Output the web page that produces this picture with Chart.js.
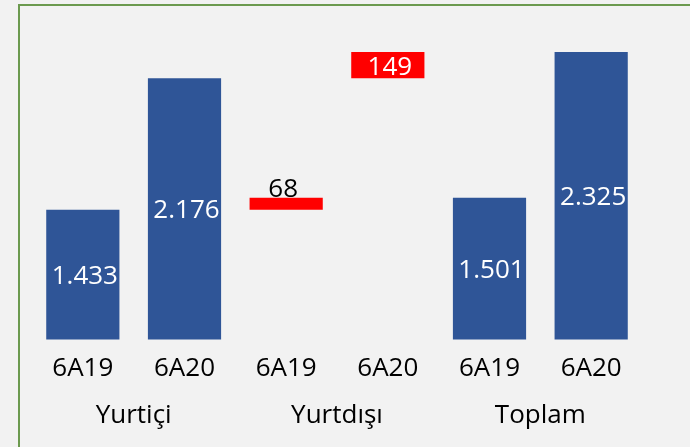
<!DOCTYPE html>
<html lang="tr">
<head>
<meta charset="UTF-8">
<title>Yurtiçi / Yurtdışı / Toplam</title>
<script src="https://cdn.jsdelivr.net/npm/chart.js@4.4.0/dist/chart.umd.min.js"></script>
<style>
    html, body { margin: 0; padding: 0; background: #f2f2f2; overflow: hidden; }
    #frame {
        position: absolute; left: 18px; top: 4px;
        width: 720px; height: 480px;
        border: 2px solid #6c9a4f; box-sizing: border-box;
    }
    #chart { position: absolute; left: 0; top: 0; }
</style>
</head>
<body>
<div id="frame"></div>
<canvas id="chart" width="690" height="447"></canvas>

<script>
    // dönemler ve gruplar
    const periods = ['6A19', '6A20', '6A19', '6A20', '6A19', '6A20'];
    const groups = ['Yurtiçi', 'Yurtdışı', 'Toplam'];

    // değerler
    const yurtici = [1433, 2176];
    const yurtdisi = [68, 149];
    const toplam = [1501, 2325];

    // görünmeyen değer ekseni
    const yMin = 700;
    const yMax = 2500;

    // yurtdışı çubukları yurtiçi değerinin üstünde yüzüyor
    const bars = [
        ...yurtici,
        [yurtici[0], yurtici[0] + yurtdisi[0]],
        [yurtici[1], yurtici[1] + yurtdisi[1]],
        ...toplam
    ];
    const shown = [...yurtici, ...yurtdisi, ...toplam];
    const colors = ['#2f5597', '#2f5597', '#ff0000', '#ff0000', '#2f5597', '#2f5597'];

    const FONT = '"Open Sans", "Noto Sans", sans-serif';

    function fmt(v) {
        return String(v).replace(/\B(?=(\d{3})+(?!\d))/g, '.');
    }

    // çubuk etiketleri
    const valueLabels = {
        id: 'valueLabels',
        afterDatasetsDraw(chart) {
            const ctx = chart.ctx;
            const area = chart.chartArea;
            const meta = chart.getDatasetMeta(0);
            ctx.save();
            ctx.font = '26px ' + FONT;
            ctx.textAlign = 'center';
            meta.data.forEach((bar, i) => {
                const txt = fmt(shown[i]);
                const top = Math.max(Math.min(bar.y, bar.base), area.top);
                const bottom = Math.min(Math.max(bar.y, bar.base), area.bottom);
                if (bottom - top > 20) {
                    ctx.fillStyle = '#ffffff';
                    ctx.textBaseline = 'middle';
                    ctx.fillText(txt, bar.x + 2, (top + bottom) / 2 + 2);
                } else {
                    ctx.fillStyle = '#000000';
                    ctx.textBaseline = 'alphabetic';
                    ctx.fillText(txt, bar.x - 3, top - 1);
                }
            });
            ctx.restore();
        }
    };

    new Chart(document.getElementById('chart'), {
        type: 'bar',
        data: {
            labels: periods,
            datasets: [{
                data: bars,
                backgroundColor: colors,
                borderWidth: 0,
                barPercentage: 0.72,
                categoryPercentage: 1.0
            }]
        },
        options: {
            responsive: false,
            animation: false,
            layout: { padding: { left: 32, top: 21, right: 48, bottom: 12 } },
            plugins: {
                legend: { display: false },
                tooltip: { enabled: false }
            },
            scales: {
                x: {
                    grid: { display: false, drawTicks: false },
                    border: { display: false },
                    ticks: { color: '#000', padding: 13, font: { family: FONT, size: 26 } }
                },
                x2: {
                    type: 'category',
                    position: 'bottom',
                    weight: 1,
                    offset: true,
                    labels: groups,
                    grid: { display: false, drawTicks: false },
                    border: { display: false },
                    ticks: { color: '#000', padding: 3.5, font: { family: FONT, size: 26 } }
                },
                y: {
                    display: false,
                    min: yMin,
                    max: yMax
                }
            }
        },
        plugins: [valueLabels]
    });
</script>
</body>
</html>
